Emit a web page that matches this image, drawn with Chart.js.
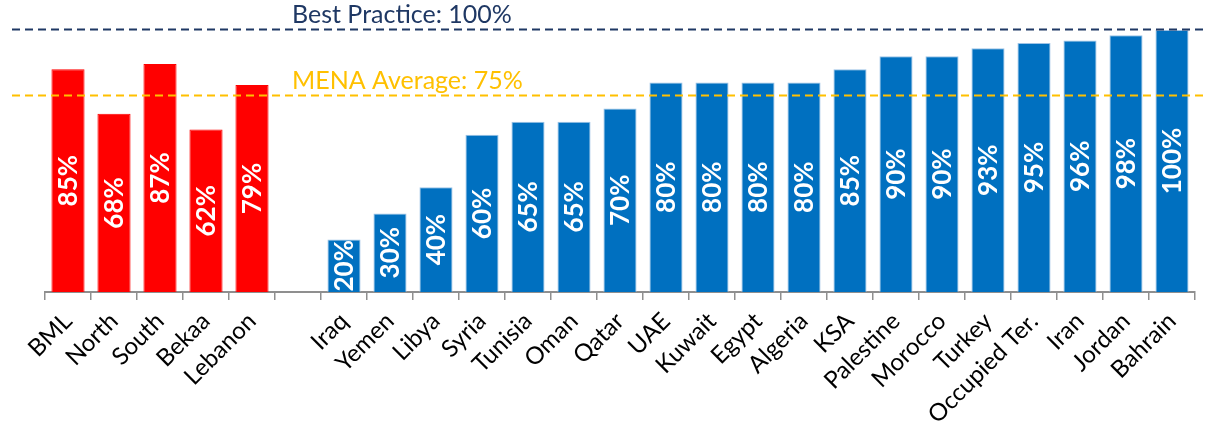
<!DOCTYPE html>
<html>
<head>
<meta charset="utf-8">
<script src="https://cdn.jsdelivr.net/npm/chart.js@4.4.1/dist/chart.umd.min.js"></script>
<style>
  html, body { margin: 0; padding: 0; background: #fff; }
  canvas { display: block; }
</style>
</head>
<body>
<canvas id="chart" width="1211" height="430"></canvas>
<script>
// ===============================
// DATA
// ===============================

const lebanonLabels = ["BML", "North", "South", "Bekaa", "Lebanon"];
const lebanonValues = [85, 68, 87, 62, 79];

const menaLabels = ["Iraq", "Yemen", "Libya", "Syria", "Tunisia", "Oman", "Qatar", "UAE", "Kuwait",
    "Egypt", "Algeria", "KSA", "Palestine", "Morocco", "Turkey", "Occupied Ter.", "Iran", "Jordan", "Bahrain"];
const menaValues = [20, 30, 40, 60, 65, 65, 70, 80, 80, 80, 80, 85, 90, 90, 93, 95, 96, 98, 100];

const bestPractice = 100;
const menaAverage = 75;

// ===============================
// CHART
// ===============================

const RED = "#FF0000";
const BLUE = "#0070C0";

// empty category between the two groups
const labels = [...lebanonLabels, "", ...menaLabels];
const values = [...lebanonValues, null, ...menaValues];
const colors = [...lebanonValues.map(() => RED), "transparent", ...menaValues.map(() => BLUE)];
const borders = [...lebanonValues.map(() => RED), "transparent", ...menaValues.map(() => "#9DC3E6")];

const refLines = {
    id: "refLines",
    afterDatasetsDraw(chart) {
        const ctx = chart.ctx;
        const y = chart.scales.y;
        const lines = [
            { v: bestPractice, text: "Best Practice: " + bestPractice + "%", color: "#1F3864" },
            { v: menaAverage, text: "MENA Average: " + menaAverage + "%", color: "#FFC000" }
        ];
        ctx.save();
        lines.forEach(l => {
            const py = Math.round(y.getPixelForValue(l.v)) - 0.5;
            ctx.strokeStyle = l.color;
            ctx.lineWidth = 2;
            ctx.setLineDash([8, 5]);
            ctx.beginPath();
            ctx.moveTo(12, py);
            ctx.lineTo(1205, py);
            ctx.stroke();

            ctx.setLineDash([]);
            ctx.fillStyle = l.color;
            ctx.font = "25px Lato";
            ctx.textAlign = "left";
            ctx.textBaseline = "alphabetic";
            ctx.fillText(l.text, 292, py - 7);
        });
        ctx.restore();
    }
};

const barValues = {
    id: "barValues",
    afterDatasetsDraw(chart) {
        const ctx = chart.ctx;
        const meta = chart.getDatasetMeta(0);
        ctx.save();
        ctx.fillStyle = "#fff";
        ctx.font = "bold 26px Lato";
        ctx.textAlign = "center";
        ctx.textBaseline = "middle";
        meta.data.forEach((bar, i) => {
            const v = values[i];
            if (v === null) return;
            const cy = (bar.y + bar.base) / 2;
            ctx.save();
            ctx.translate(bar.x + 1, cy);
            ctx.rotate(-Math.PI / 2);
            ctx.fillText(v + "%", 0, 0);
            ctx.restore();
        });
        ctx.restore();
    }
};

new Chart(document.getElementById("chart"), {
    type: "bar",
    data: {
        labels: labels,
        datasets: [{
            data: values,
            backgroundColor: colors,
            borderColor: borders,
            borderWidth: 1,
            borderSkipped: "bottom",
            barPercentage: 0.72,
            categoryPercentage: 1
        }]
    },
    options: {
        responsive: false,
        animation: false,
        layout: { padding: { left: 45, right: 16, top: 30, bottom: 0 } },
        plugins: {
            legend: { display: false },
            tooltip: { enabled: false }
        },
        scales: {
            y: { display: false, min: 0, max: 100 },
            x: {
                grid: {
                    offset: true,
                    drawOnChartArea: false,
                    tickLength: 8,
                    color: "#8f8f8f",
                    lineWidth: 1.5
                },
                border: { display: true, color: "#8f8f8f", width: 2 },
                ticks: {
                    autoSkip: false,
                    maxRotation: 45,
                    minRotation: 45,
                    padding: 7,
                    color: "#000",
                    font: { family: "Lato", size: 24 }
                },
                afterFit(scale) {
                    scale.height = 138;
                    scale.paddingLeft = 0;
                    scale.paddingRight = 0;
                }
            }
        }
    },
    plugins: [refLines, barValues]
});
</script>
</body>
</html>
